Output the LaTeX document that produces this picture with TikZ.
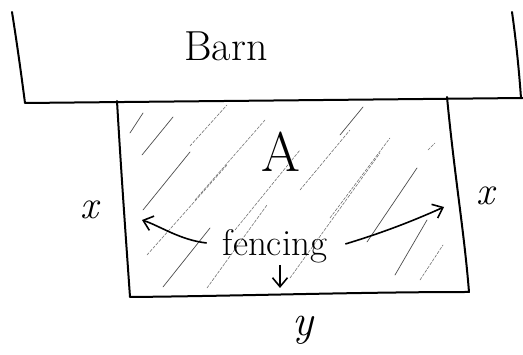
\documentclass[tikz,border=0pt]{standalone}
\usetikzlibrary{arrows.meta}
\begin{document}
\begin{tikzpicture}[x=1pt,y=-1pt,
  ink/.style={line width=2pt,line cap=round,line join=round},
  hatch/.style={line width=0.7pt,black!70,line cap=round},
  hatchd/.style={line width=0.6pt,black!55,dash pattern=on 3pt off 1.5pt,line cap=round},
  arr/.style={line width=1.6pt,-{Straight Barb[length=9pt,width=15pt,line width=1.6pt]}},
  lbl/.style={inner sep=0pt}]
\useasboundingbox (0,0) rectangle (523,355);
% barn
\coordinate (btl) at (12,12);
\coordinate (bbl) at (25,103);
\coordinate (btr) at (512,12);
\coordinate (bbr) at (523,98);
\draw[ink] (btl) .. controls (18,50) and (22,80) .. (bbl) -- (bbr);
\draw[ink] (btr) .. controls (516,40) and (519,70) .. (521,98);
\node[lbl,font=\fontsize{42}{42}\selectfont] (barn) at (226,46) {Barn};
% field
\coordinate (ftl) at (117,101);
\coordinate (ftr) at (447,97);
\coordinate (fbl) at (130,297);
\coordinate (fbr) at (469,292);
\draw[ink] (ftl) .. controls (121,170) and (126,240) .. (fbl)
  .. controls (240,296) and (360,292) .. (fbr)
  .. controls (464,230) and (455,180) .. (ftr);
% hatching
\draw[hatch] (130,133) -- (143,113);
\draw[hatch] (142,155) -- (173,117);
\draw[hatchd] (190,146) -- (227,105);
\draw[hatch] (143,210) -- (190,152);
\draw[hatchd] (147,255) -- (227,165);
\draw[hatch] (163,287) -- (210,228);
\draw[hatchd] (207,288) -- (267,205);
\draw[hatchd] (195,200) -- (265,120);
\draw[hatchd] (235,230) -- (300,150);
\draw[hatch] (340,135) -- (363,107);
\draw[hatchd] (300,190) -- (350,130);
\draw[hatchd] (330,218) -- (390,138);
\draw[hatchd] (290,278) -- (380,153);
\draw[hatch] (367,242) -- (417,168);
\draw[hatch] (395,275) -- (427,220);
\draw[hatchd] (420,280) -- (443,245);
\draw[hatchd] (428,150) -- (435,143);
% labels
\node[lbl,font=\fontsize{56}{56}\selectfont] (A) at (281,152) {A};
\node[lbl,font=\fontsize{37}{37}\selectfont] (fen) at (275,246) {fencing};
\node[lbl,font=\fontsize{40}{40}\selectfont\itshape] (xl) at (89,210) {x};
\node[lbl,font=\fontsize{40}{40}\selectfont\itshape] (xr) at (485,196) {x};
\node[lbl,font=\fontsize{44}{44}\selectfont\itshape] (yy) at (303,330) {y};
% arrows
\coordinate (la) at (142,220);
\coordinate (ra) at (444,207);
\coordinate (da) at (280,288);
\draw[arr] (fen.west) ++(-16,-3) .. controls (180,240) and (160,226) .. (la);
\draw[arr] (fen.east) ++(18,-2) .. controls (385,232) and (415,220) .. (ra);
\draw[arr] (280,265) -- (da);
\end{tikzpicture}
\end{document}
